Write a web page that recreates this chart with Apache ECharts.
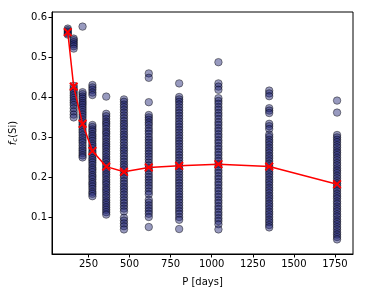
<!DOCTYPE html>
<html><head><meta charset="utf-8">
<script src="https://cdn.jsdelivr.net/npm/echarts@6/dist/echarts.min.js"></script>
<style>html,body{margin:0;padding:0;background:#fff}#c{width:365px;height:296px}</style>
</head><body><div id="c"></div>
<script>
const periods = [124, 160, 214, 274, 358, 466, 617, 802, 1041, 1350, 1763];
const medianFc = [0.562, 0.426, 0.333, 0.265, 0.226, 0.213, 0.224, 0.228, 0.232, 0.226, 0.182];
const xTicks = [250, 500, 750, 1000, 1250, 1500, 1750];
const yTicks = [0.1, 0.2, 0.3, 0.4, 0.5, 0.6];

const fc124 = [0.571, 0.567, 0.563, 0.559, 0.556];
const fc160 = [0.546, 0.542, 0.537, 0.532, 0.527, 0.521, 0.428, 0.422, 0.416, 0.41, 0.404, 0.398, 0.392, 0.386, 0.38, 0.372, 0.364, 0.356, 0.349];
const fc214 = [0.576, 0.412, 0.407, 0.401, 0.396, 0.39, 0.385, 0.38, 0.374, 0.368, 0.362, 0.356, 0.35, 0.343, 0.337, 0.331, 0.325, 0.318, 0.312, 0.305, 0.298, 0.292, 0.286, 0.279, 0.272, 0.266, 0.26, 0.254, 0.249];
const fc274 = [0.43, 0.424, 0.418, 0.411, 0.405, 0.33, 0.325, 0.319, 0.314, 0.307, 0.302, 0.296, 0.29, 0.283, 0.278, 0.272, 0.265, 0.26, 0.254, 0.247, 0.242, 0.236, 0.23, 0.223, 0.218, 0.212, 0.205, 0.2, 0.194, 0.187, 0.182, 0.176, 0.17, 0.163, 0.158, 0.152];
const fc358 = [0.401, 0.358, 0.352, 0.345, 0.338, 0.333, 0.327, 0.32, 0.313, 0.308, 0.301, 0.295, 0.288, 0.282, 0.276, 0.27, 0.263, 0.257, 0.25, 0.244, 0.238, 0.231, 0.225, 0.219, 0.212, 0.206, 0.2, 0.193, 0.187, 0.181, 0.174, 0.168, 0.162, 0.155, 0.149, 0.142, 0.136, 0.13, 0.124, 0.118, 0.112, 0.106];
const fc466 = [0.394, 0.388, 0.381, 0.375, 0.368, 0.361, 0.354, 0.347, 0.34, 0.333, 0.327, 0.32, 0.313, 0.306, 0.3, 0.293, 0.286, 0.279, 0.272, 0.266, 0.259, 0.252, 0.245, 0.238, 0.231, 0.225, 0.218, 0.211, 0.204, 0.197, 0.19, 0.183, 0.176, 0.17, 0.163, 0.156, 0.149, 0.142, 0.135, 0.128, 0.121, 0.114, 0.098, 0.091, 0.084, 0.077, 0.069];
const fc617 = [0.459, 0.448, 0.387, 0.355, 0.349, 0.343, 0.336, 0.33, 0.322, 0.315, 0.308, 0.3, 0.293, 0.286, 0.279, 0.272, 0.265, 0.258, 0.251, 0.244, 0.236, 0.229, 0.222, 0.215, 0.207, 0.2, 0.193, 0.186, 0.179, 0.172, 0.164, 0.157, 0.143, 0.136, 0.129, 0.122, 0.115, 0.108, 0.1, 0.075];
const fc802 = [0.434, 0.4, 0.394, 0.388, 0.381, 0.374, 0.367, 0.36, 0.353, 0.346, 0.339, 0.332, 0.325, 0.318, 0.311, 0.304, 0.297, 0.29, 0.283, 0.276, 0.269, 0.262, 0.255, 0.248, 0.241, 0.234, 0.227, 0.22, 0.213, 0.206, 0.199, 0.192, 0.185, 0.178, 0.171, 0.164, 0.157, 0.15, 0.143, 0.136, 0.129, 0.122, 0.115, 0.108, 0.1, 0.093, 0.07];
const fc1041 = [0.487, 0.434, 0.426, 0.418, 0.397, 0.39, 0.383, 0.375, 0.368, 0.36, 0.353, 0.345, 0.337, 0.33, 0.322, 0.315, 0.307, 0.3, 0.292, 0.285, 0.277, 0.27, 0.262, 0.255, 0.247, 0.24, 0.232, 0.225, 0.217, 0.21, 0.202, 0.195, 0.187, 0.18, 0.172, 0.165, 0.157, 0.15, 0.142, 0.135, 0.127, 0.12, 0.112, 0.105, 0.097, 0.09, 0.082, 0.069];
const fc1350 = [0.416, 0.409, 0.402, 0.372, 0.366, 0.36, 0.333, 0.327, 0.32, 0.306, 0.3, 0.293, 0.287, 0.28, 0.273, 0.267, 0.26, 0.253, 0.247, 0.24, 0.233, 0.227, 0.22, 0.213, 0.207, 0.2, 0.193, 0.187, 0.18, 0.173, 0.167, 0.16, 0.153, 0.147, 0.14, 0.133, 0.127, 0.12, 0.113, 0.107, 0.1, 0.093, 0.087, 0.08, 0.074];
const fc1763 = [0.391, 0.361, 0.305, 0.299, 0.293, 0.287, 0.28, 0.274, 0.267, 0.261, 0.255, 0.248, 0.242, 0.235, 0.229, 0.222, 0.216, 0.21, 0.203, 0.197, 0.19, 0.184, 0.178, 0.171, 0.165, 0.158, 0.152, 0.146, 0.139, 0.133, 0.126, 0.12, 0.114, 0.107, 0.101, 0.094, 0.088, 0.082, 0.075, 0.069, 0.062, 0.056, 0.05, 0.044];

const columns = [fc124, fc160, fc214, fc274, fc358, fc466, fc617, fc802, fc1041, fc1350, fc1763];
const scatterData = [];
columns.forEach((col, i) => col.forEach(v => scatterData.push([periods[i], v])));
const lineData = periods.map((p, i) => [p, medianFc[i]]);

const font = 'DejaVu Sans';
const chart = echarts.init(document.getElementById('c'), null, {renderer: 'canvas'});
chart.setOption({
  animation: false,
  backgroundColor: '#fff',
  grid: {left: 48, right: 12, top: 12, bottom: 42, show: true, borderColor: '#000', borderWidth: 1, backgroundColor: 'transparent'},
  xAxis: {
    type: 'value', min: 28, max: 1860,
    name: 'P [days]', nameLocation: 'middle', nameGap: 23,
    nameTextStyle: {fontFamily: font, fontSize: 10, color: '#000'},
    splitLine: {show: false},
    axisLine: {show: true, lineStyle: {color: '#000', width: 1}},
    axisTick: {show: true, length: 3.5, lineStyle: {color: '#000'}, customValues: xTicks},
    axisLabel: {fontFamily: font, fontSize: 10, color: '#000', margin: 5, customValues: xTicks, formatter: v => String(v)}
  },
  yAxis: {
    type: 'value', min: 0.0075, max: 0.6125,
    name: '{i|f}{s|c}{n|(Si)}', nameLocation: 'middle', nameGap: 33, nameRotate: 90,
    nameTextStyle: {fontFamily: font, fontSize: 10, color: '#000',
      rich: {i: {fontFamily: font, fontSize: 10, fontStyle: 'italic', color: '#000'},
             s: {fontFamily: font, fontSize: 7, fontStyle: 'italic', color: '#000', verticalAlign: 'bottom', padding: [5, 0, 0, 0]},
             n: {fontFamily: font, fontSize: 10, color: '#000'}}},
    splitLine: {show: false},
    axisLine: {show: true, lineStyle: {color: '#000', width: 1}},
    axisTick: {show: true, length: 3.5, lineStyle: {color: '#000'}, customValues: yTicks},
    axisLabel: {fontFamily: font, fontSize: 10, color: '#000', margin: 5, customValues: yTicks, formatter: v => v.toFixed(1)}
  },
  series: [
    {
      type: 'scatter', data: scatterData, symbol: 'circle', symbolSize: 7.5,
      itemStyle: {color: 'rgba(25,28,112,0.56)', borderColor: 'rgba(0,0,0,0.6)', borderWidth: 0.9},
      z: 2
    },
    {
      type: 'line', data: lineData,
      symbol: 'path://M0,1.5L1.5,0L5,3.5L8.5,0L10,1.5L6.5,5L10,8.5L8.5,10L5,6.5L1.5,10L0,8.5L3.5,5Z', symbolSize: 9,
      itemStyle: {color: '#ff0000'}, lineStyle: {color: '#ff0000', width: 1.5},
      z: 5
    }
  ]
});
</script></body></html>
